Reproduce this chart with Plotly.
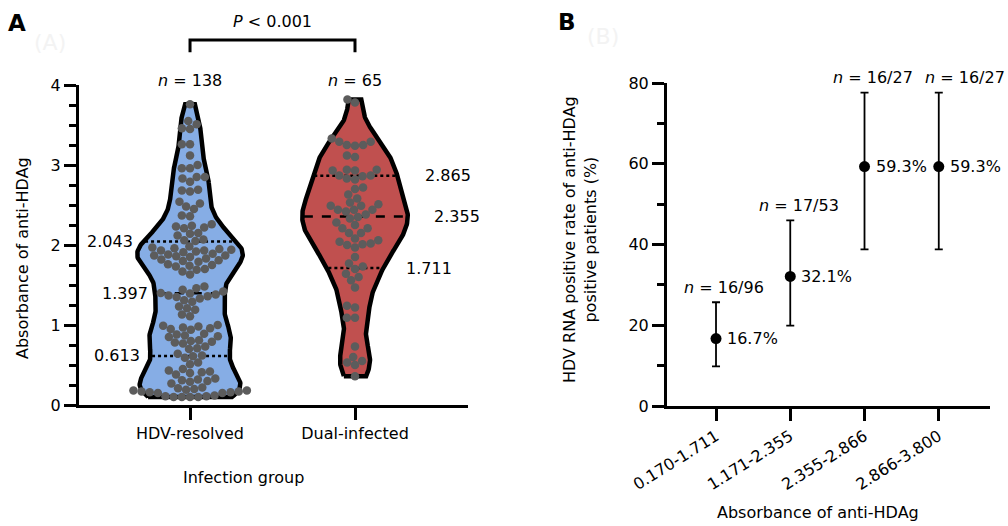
import numpy as np
import plotly.graph_objects as go

W, H = 1008, 526

# ---------------- data (panel A) ----------------
groups = ["HDV-resolved", "Dual-infected"]
hdv_resolved = [
    3.76, 3.55, 3.51, 3.46, 3.45, 3.26, 3.26, 3.12, 3.00, 2.96, 2.96, 2.85, 2.85, 2.83, 2.79,
    2.69, 2.68, 2.67, 2.54, 2.52,
    2.48, 2.45, 2.37, 2.36,
    2.26, 2.24, 2.23, 2.22, 2.21,
    2.15, 2.14, 2.12,
    2.07, 2.06, 2.05,
    1.98, 1.97, 1.96, 1.95, 1.94, 1.93, 1.93, 1.92, 1.91,
    1.89, 1.88, 1.87, 1.87, 1.86, 1.85,
    1.83, 1.82, 1.81, 1.80, 1.79,
    1.76, 1.75, 1.74, 1.73,
    1.70, 1.69, 1.67,
    1.63,
    1.48, 1.46, 1.44, 1.42,
    1.40, 1.395, 1.38, 1.37, 1.36, 1.35, 1.33, 1.31, 1.29,
    1.23, 1.21, 1.19,
    1.13, 1.11,
    1.00, 0.99, 0.98, 0.97, 0.96, 0.95, 0.94,
    0.89, 0.88, 0.87, 0.86, 0.85,
    0.81, 0.80, 0.79, 0.78, 0.77,
    0.73, 0.71, 0.70,
    0.64, 0.62, 0.61, 0.59,
    0.53, 0.51,
    0.45, 0.43, 0.42, 0.41, 0.40, 0.38,
    0.33, 0.32, 0.31, 0.30, 0.29, 0.27,
    0.22, 0.21, 0.20, 0.19, 0.18, 0.18, 0.17, 0.17, 0.16, 0.16, 0.15, 0.15,
    0.12, 0.11, 0.11, 0.10, 0.10, 0.10, 0.10,
]
dual_infected = [
    3.82, 3.78,
    3.33, 3.29, 3.29, 3.25, 3.25, 3.24,
    3.12, 3.10,
    2.94, 2.94, 2.93, 2.93, 2.87, 2.87, 2.86, 2.83, 2.82,
    2.72, 2.70,
    2.63, 2.58,
    2.53, 2.51, 2.49, 2.49, 2.44, 2.44, 2.44, 2.42,
    2.38, 2.35, 2.33, 2.28, 2.25,
    2.21, 2.21, 2.15, 2.15,
    2.08, 2.06, 2.04, 2.02, 2.01, 2.00, 1.97,
    1.85,
    1.77, 1.73, 1.70,
    1.64, 1.60, 1.56, 1.47,
    1.24, 1.22,
    1.09, 1.09,
    0.73,
    0.60, 0.55, 0.53, 0.50,
    0.36,
]
quartiles_hdv = [0.613, 1.397, 2.043]
quartiles_dual = [1.711, 2.355, 2.865]
p_value_text = "<i>P</i> < 0.001"

# ---------------- data (panel B) ----------------
absorbance_ranges = ["0.170-1.711", "1.171-2.355", "2.355-2.866", "2.866-3.800"]
positives = [16, 17, 16, 16]
totals = [96, 53, 27, 27]
rates = [16.7, 32.1, 59.3, 59.3]
ci_low = [9.8, 19.9, 38.8, 38.8]
ci_high = [25.7, 46.0, 77.6, 77.6]

# ---------------- layout geometry ----------------
FONT = "DejaVu Sans"
xA_dom = [79 / W, 468 / W]
yA_dom = [1 - 405 / H, 1 - 85 / H]
xA_rng = [-0.673, 1.685]
yA_rng = [0, 4]
xB_dom = [667 / W, 990 / W]
yB_dom = [1 - 406 / H, 1 - 83 / H]
xB_rng = [-0.66, 3.69]
yB_rng = [0, 80]

px_per_x = (xA_dom[1] - xA_dom[0]) * W / (xA_rng[1] - xA_rng[0])
px_per_y = (yA_dom[1] - yA_dom[0]) * H / (yA_rng[1] - yA_rng[0])


def paperA(x, y):
    px = xA_dom[0] + (x - xA_rng[0]) / (xA_rng[1] - xA_rng[0]) * (xA_dom[1] - xA_dom[0])
    py = yA_dom[0] + (y - yA_rng[0]) / (yA_rng[1] - yA_rng[0]) * (yA_dom[1] - yA_dom[0])
    return px, py


def beeswarm(vals, d_px):
    vals = np.asarray(vals, float)
    order = np.argsort(vals, kind="stable")
    placed = []
    xs = np.zeros(len(vals))
    for idx in order:
        y = vals[idx] * px_per_y
        near = [(px, py) for px, py in placed if abs(py - y) < d_px]
        cands = [0.0]
        for px, py in near:
            dx = np.sqrt(d_px ** 2 - (py - y) ** 2)
            cands += [px - dx, px + dx]
        cands.sort(key=lambda c: (abs(c), c))
        for c in cands:
            if all((c - px) ** 2 + (y - py) ** 2 >= d_px ** 2 - 1e-6 for px, py in near):
                xs[idx] = c
                placed.append((c, y))
                break
    return xs / px_per_x


def violin_shape(vals, bw, max_half):
    v = np.asarray(vals, float)
    grid = np.linspace(v.min(), v.max(), 300)
    dens = np.exp(-0.5 * ((grid[:, None] - v[None, :]) / bw) ** 2).sum(1)
    hw = dens / dens.max() * max_half
    return grid, hw


fig = go.Figure()

fills = ["#86ade5", "#c0504f"]
bws = [0.2, 0.22]
all_vals = [hdv_resolved, dual_infected]
all_q = [quartiles_hdv, quartiles_dual]
MAXHALF = 0.32

for gi, (vals, q) in enumerate(zip(all_vals, all_q)):
    grid, hw = violin_shape(vals, bws[gi], MAXHALF)
    xs = np.concatenate([gi - hw, (gi + hw)[::-1], [gi - hw[0]]])
    ys = np.concatenate([grid, grid[::-1], [grid[0]]])
    fig.add_trace(go.Scatter(x=xs, y=ys, mode="lines", fill="toself", fillcolor=fills[gi],
                             line=dict(color="black", width=4.5), hoverinfo="skip",
                             showlegend=False, xaxis="x", yaxis="y"))
    for k, qv in enumerate(q):
        w = np.interp(qv, grid, hw) - 0.01
        fig.add_trace(go.Scatter(x=[gi - w, gi + w], y=[qv, qv], mode="lines",
                                 line=dict(color="black", width=2.5,
                                           dash="dash" if k == 1 else "dot"),
                                 hoverinfo="skip", showlegend=False, xaxis="x", yaxis="y"))
    offs = beeswarm(vals, 8.2)
    fig.add_trace(go.Scatter(x=gi + offs, y=vals, mode="markers",
                             marker=dict(color="#5c5c5c", size=8.5, line=dict(width=0)),
                             showlegend=False, xaxis="x", yaxis="y", cliponaxis=False))

# Panel B
err_plus = [h - r for h, r in zip(ci_high, rates)]
err_minus = [r - l for r, l in zip(rates, ci_low)]
fig.add_trace(go.Scatter(x=list(range(len(rates))), y=rates, mode="markers",
                         marker=dict(color="black", size=11),
                         error_y=dict(type="data", array=err_plus, arrayminus=err_minus,
                                      color="black", thickness=1.8, width=4),
                         showlegend=False, xaxis="x2", yaxis="y2", cliponaxis=False))

ann = []
tf = dict(family=FONT, size=16, color="black")
C = dict(xanchor="center", yanchor="middle", showarrow=False)
# n labels panel A
for gi, vals in enumerate(all_vals):
    ann.append(dict(x=gi, y=4, xref="x", yref="y", text=f"<i>n</i> = {len(vals)}",
                    font=tf, yshift=5, **C))
# quartile labels
q_shifts = [[-48, -40, -55], [49, 77, 68]]
for gi, q in enumerate(all_q):
    for k, qv in enumerate(q):
        sh = q_shifts[gi][k]
        ann.append(dict(x=gi, y=qv, xref="x", yref="y", text=f"{qv:.3f}", showarrow=False,
                        font=tf, xanchor="right" if sh < 0 else "left", xshift=sh,
                        yanchor="middle"))
# bracket + p value
bx0, by0 = paperA(0, 4.41)
bx1, by1 = paperA(1, 4.5625)
shapes = [dict(type="path", xref="paper", yref="paper",
               path=f"M {bx0},{by0} L {bx0},{by1} L {bx1},{by1} L {bx1},{by0}",
               line=dict(color="black", width=3))]
pcx, pcy = paperA(0.5, 4.8)
ann.append(dict(x=pcx, y=pcy, xref="paper", yref="paper", text=p_value_text, font=tf, **C))
# axis titles panel A
ann.append(dict(x=22 / W, y=1 - 258 / H, xref="paper", yref="paper",
                text="Absorbance of anti-HDAg", textangle=-90, font=tf, **C))
ann.append(dict(x=243 / W, y=1 - 477 / H, xref="paper", yref="paper",
                text="Infection group", font=tf, **C))
# Panel B labels
n_shift = [8, 9, 8, 26]
for i in range(len(rates)):
    ann.append(dict(x=i, y=rates[i], xref="x2", yref="y2", text=f"{rates[i]:.1f}%",
                    showarrow=False, font=tf, xanchor="left", xshift=9, yanchor="middle"))
    ann.append(dict(x=i, y=ci_high[i], xref="x2", yref="y2",
                    text=f"<i>n</i> = {positives[i]}/{totals[i]}",
                    font=tf, xshift=n_shift[i], yshift=15, **C))
ann.append(dict(x=580 / W, y=1 - 240 / H, xref="paper", yref="paper",
                text="HDV RNA positive rate of anti-HDAg<br>positive patients (%)",
                textangle=-90, font=tf, **C))
ann.append(dict(x=818 / W, y=1 - 512 / H, xref="paper", yref="paper",
                text="Absorbance of anti-HDAg", font=tf, **C))
# panel letters + faint ghosts
ann.append(dict(x=17 / W, y=1 - 23 / H, xref="paper", yref="paper", text="<b>A</b>",
                font=dict(family=FONT, size=23, color="black"), **C))
ann.append(dict(x=567 / W, y=1 - 22 / H, xref="paper", yref="paper", text="<b>B</b>",
                font=dict(family=FONT, size=23, color="black"), **C))
ann.append(dict(x=50 / W, y=1 - 42 / H, xref="paper", yref="paper", text="(A)",
                font=dict(family=FONT, size=22, color="#f3f3f3"), **C))
ann.append(dict(x=603 / W, y=1 - 36 / H, xref="paper", yref="paper", text="(B)",
                font=dict(family=FONT, size=22, color="#f3f3f3"), **C))

axis_common = dict(showline=True, linecolor="black", linewidth=3, ticks="outside",
                   ticklen=12, tickwidth=3, tickcolor="black", showgrid=False,
                   zeroline=False, tickfont=tf, fixedrange=True, automargin=False)
minor_common = dict(ticks="outside", ticklen=7, tickwidth=3, tickcolor="black", showgrid=False)

fig.update_layout(
    width=W, height=H, margin=dict(l=0, r=0, t=0, b=0, autoexpand=False),
    paper_bgcolor="white", plot_bgcolor="white",
    font=dict(family=FONT, size=16, color="black"),
    xaxis=dict(domain=xA_dom, range=xA_rng, tickvals=[0, 1], ticktext=groups,
               anchor="y", **axis_common),
    yaxis=dict(domain=yA_dom, range=yA_rng, tickvals=[0, 1, 2, 3, 4], anchor="x",
               minor=dict(dtick=0.25, tick0=0, **minor_common), **axis_common),
    xaxis2=dict(domain=xB_dom, range=xB_rng, tickvals=list(range(len(absorbance_ranges))),
                ticktext=absorbance_ranges, tickangle=-32, anchor="y2", **axis_common),
    yaxis2=dict(domain=yB_dom, range=yB_rng, tickvals=[0, 20, 40, 60, 80], anchor="x2",
                minor=dict(dtick=10, tick0=0, **minor_common), **axis_common),
    annotations=ann, shapes=shapes,
)

fig.write_html("out.html", config={"displayModeBar": False},
               post_script="document.body.style.margin='0';document.body.style.overflow='hidden';")
